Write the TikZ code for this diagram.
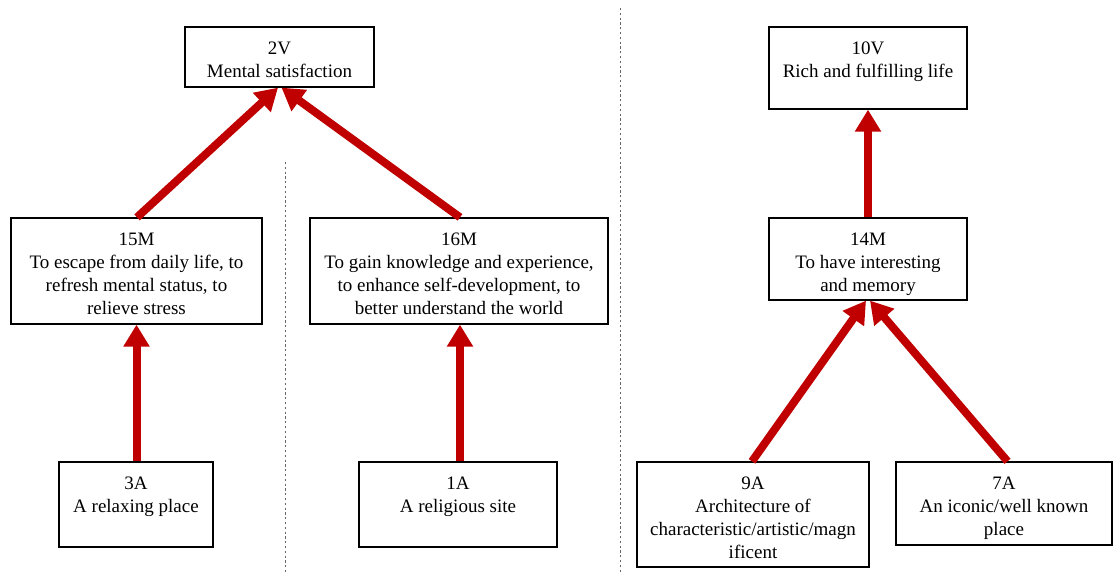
\documentclass[tikz,border=0pt]{standalone}
\usepackage{fontspec}
\setmainfont{Liberation Serif}
\usepackage{xcolor}
\usetikzlibrary{arrows.meta}
\definecolor{linkred}{RGB}{192,0,0}

\tikzset{
	box/.style = {draw, line width = 1.3pt, inner sep = 0pt},
	caption/.style = {anchor = north, align = center, inner sep = 0pt, yshift = -15pt,
		font = \fontsize{19}{23}\selectfont},
	link/.style = {draw = linkred, line width = 8pt, -{Triangle[length = 22pt, width = 25pt]}},
	divider/.style = {gray!80!black, line width = 0.9pt, dash pattern = on 2.2pt off 2.6pt}
}

\begin{document}
\begin{tikzpicture}[x = 1pt, y = -1pt]
					\useasboundingbox (0,0) rectangle (1113,574);

					\begin{scope}
						\draw [divider] (620,8) -- (620,574);
						\draw [divider] (285,162) -- (285,574);
					\end{scope}

					% left chain
					\begin{scope}
						\node [box, minimum width = 189, minimum height = 60,
							label = {[caption]north:2V\\Mental satisfaction}] (v2) at (279.5,57) {};
						\node [box, minimum width = 251, minimum height = 106,
							label = {[caption]north:15M\\To escape from daily life, to\\refresh mental status, to\\relieve stress}] (m15) at (136.5,271) {};
						\node [box, minimum width = 298, minimum height = 106,
							label = {[caption]north:16M\\To gain knowledge and experience,\\to enhance self-development, to\\better understand the world}] (m16) at (459,271) {};
						\node [box, minimum width = 154, minimum height = 85,
							label = {[caption]north:3A\\A relaxing place}] (a3) at (136,504.5) {};
						\node [box, minimum width = 198, minimum height = 85,
							label = {[caption]north:1A\\A religious site}] (a1) at (458,504.5) {};
					\end{scope}

					% right chain
					\begin{scope}
						\node [box, minimum width = 198, minimum height = 82,
							label = {[caption]north:10V\\Rich and fulfilling life}] (v10) at (868,68) {};
						\node [box, minimum width = 198, minimum height = 82,
							label = {[caption]north:14M\\To have interesting\\and memory}] (m14) at (868,259) {};
						\node [box, minimum width = 232, minimum height = 105,
							label = {[caption]north:9A\\Architecture of\\characteristic/artistic/magn\\ificent}] (a9) at (753,514.5) {};
						\node [box, minimum width = 216, minimum height = 83,
							label = {[caption]north:7A\\An iconic/well known\\place}] (a7) at (1004,503.5) {};
					\end{scope}

					\begin{scope}[link]
						\draw ([xshift = 0.5]m15.north) -- ([xshift = -1.5]v2.south);
						\draw ([xshift = 1]m16.north) -- ([xshift = 2]v2.south);
						\draw ([xshift = 0.5]a3.north) -- (m15.south);
						\draw ([xshift = 2]a1.north) -- ([xshift = 1]m16.south);
						\draw (m14.north) -- (v10.south);
						\draw ([xshift = -1]a9.north) -- ([xshift = -2]m14.south);
						\draw ([xshift = 3.5]a7.north) -- ([xshift = 2]m14.south);
					\end{scope}
				\end{tikzpicture}
\end{document}
